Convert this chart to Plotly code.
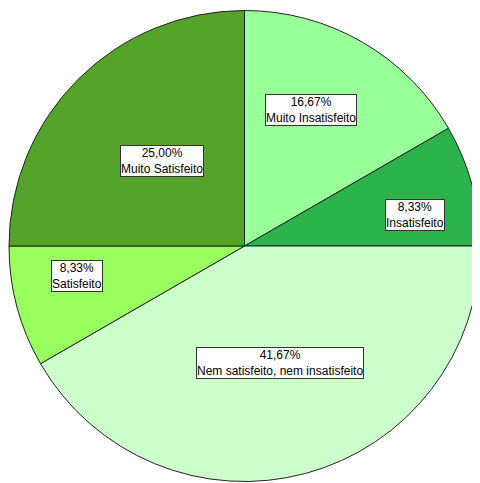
import plotly.graph_objects as go

# categories in drawing order (clockwise from 12 o'clock)
categories = ['Muito Insatisfeito', 'Insatisfeito', 'Nem satisfeito, nem insatisfeito',
              'Satisfeito', 'Muito Satisfeito']
percents = [16.67, 8.33, 41.67, 8.33, 25.00]

colors = ['#99ff99', '#2db34b', '#ccffcc', '#99ff5f', '#55a32a']
# label box centres in pixels (x, y from top of the window)
label_px = [(311, 110), (415, 215), (280, 363), (77, 276), (162, 161)]

OFF = 8  # page body margin
W, H = 480 - OFF, 483 - OFF

fig = go.Figure()
fig.add_trace(go.Pie(
    labels=categories,
    values=percents,
    sort=False,
    direction='clockwise',
    rotation=0,
    marker=dict(colors=colors, line=dict(color='#222222', width=1)),
    textinfo='none',
    hoverinfo='label+percent',
    domain=dict(x=[1 / W, 1], y=[1.5 / H, 472.5 / H]),
    showlegend=False,
))

for cat, pct, (px, py) in zip(categories, percents, label_px):
    fig.add_annotation(
        x=(px - OFF) / W, y=1 - (py - OFF) / H, xref='paper', yref='paper',
        text='%s%%<br>%s' % (('%.2f' % pct).replace('.', ','), cat),
        showarrow=False,
        font=dict(family='Liberation Sans, Arial', size=12, color='black'),
        bgcolor='white', bordercolor='#333333', borderwidth=1, borderpad=0,
        xanchor='center', yanchor='middle',
    )

fig.update_layout(width=W, height=H, margin=dict(l=0, r=0, t=0, b=0),
                  paper_bgcolor='white', plot_bgcolor='white')
fig.write_html("out.html")
